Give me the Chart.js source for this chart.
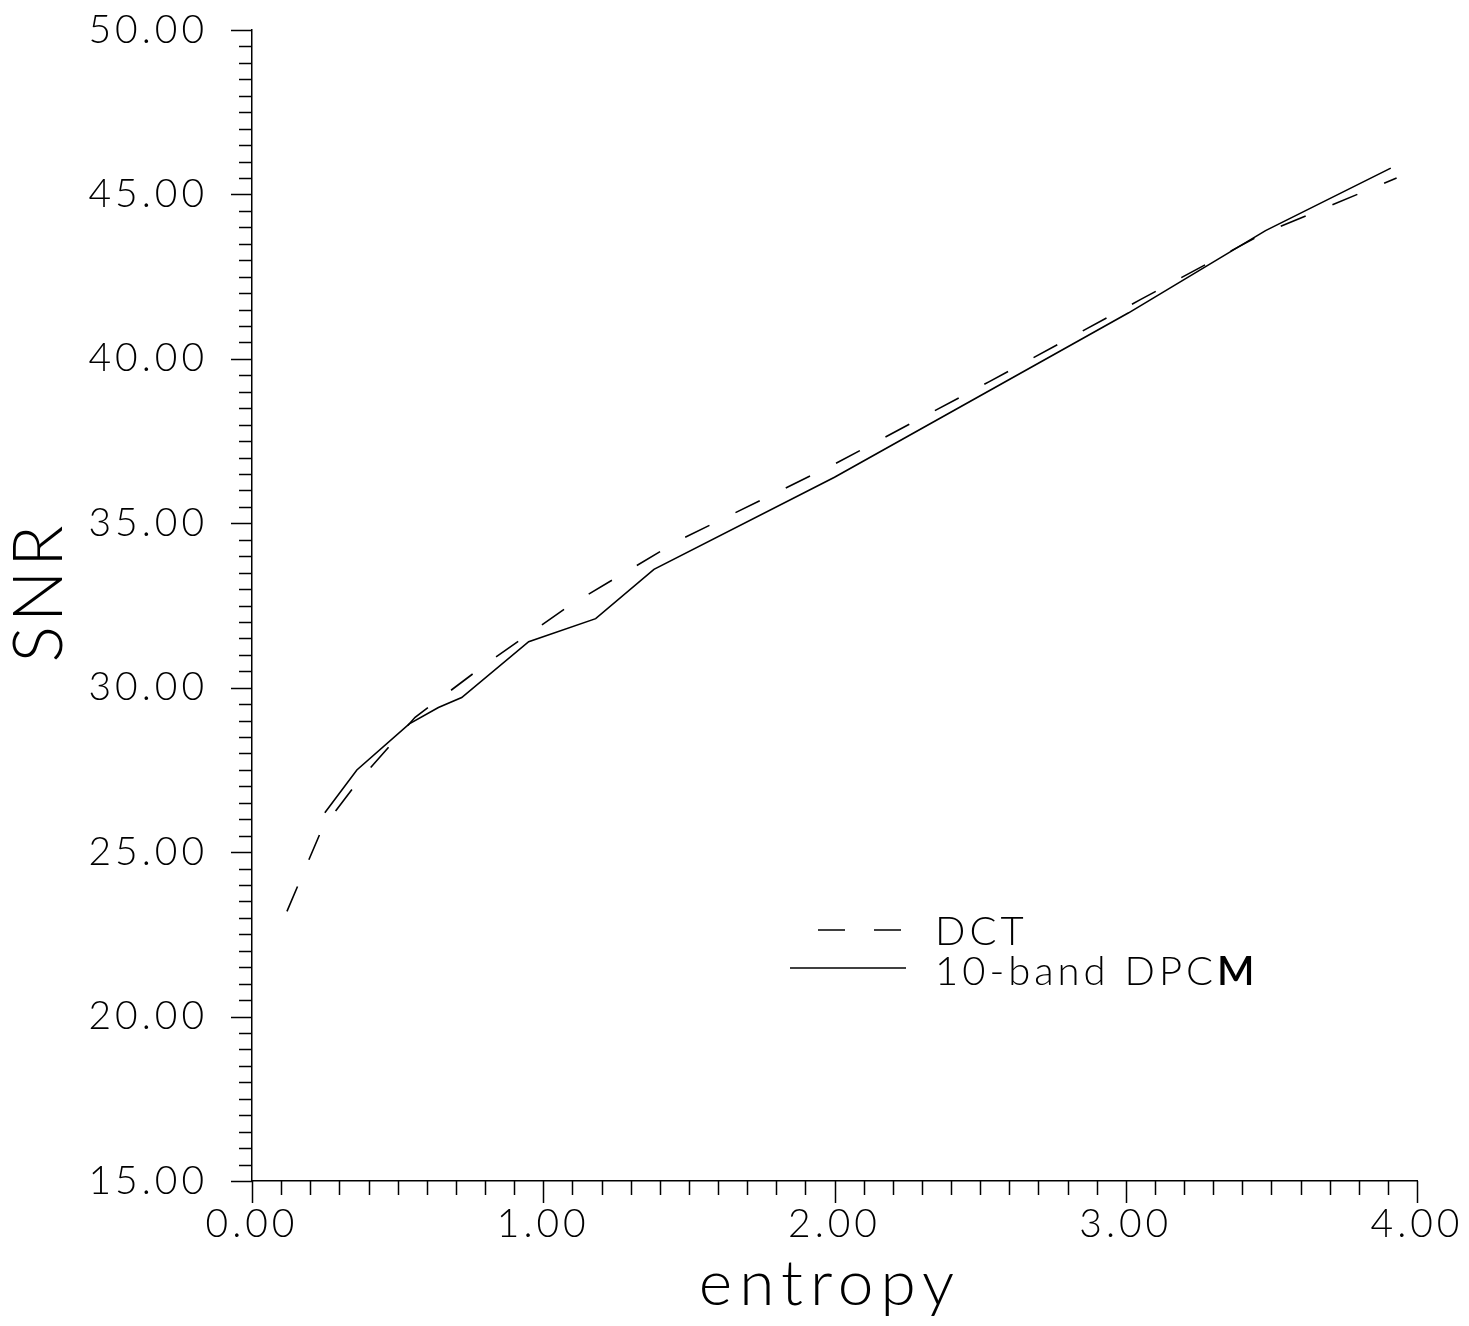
<!DOCTYPE html>
<html>
<head>
<meta charset="utf-8">
<title>SNR vs entropy</title>
<script src="https://cdn.jsdelivr.net/npm/chart.js@4.4.0/dist/chart.umd.min.js"></script>
<style>
  html, body { margin: 0; padding: 0; background: #fff; }
  #wrap { width: 1469px; height: 1326px; }
</style>
</head>
<body>
<div id="wrap"><canvas id="snrChart" width="1469" height="1326"></canvas></div>
<script>
// values
const dctEntropy = [0.12, 0.24, 0.36, 0.56, 0.80, 1.09, 1.47, 2.00, 2.53, 3.05, 3.47, 3.93];
const dctSnr     = [23.2, 25.7, 27.1, 29.1, 30.7, 32.5, 34.5, 36.8, 39.3, 41.8, 43.8, 45.5];

const dpcmEntropy = [0.25, 0.36, 0.54, 0.64, 0.72, 0.95, 1.18, 1.38, 2.00, 3.01, 3.48, 3.91];
const dpcmSnr     = [26.2, 27.5, 28.9, 29.4, 29.7, 31.4, 32.1, 33.6, 36.4, 41.4, 43.9, 45.8];

const xRange = [0, 4];
const yRange = [15, 50];
const xMinorStep = 0.1, xMajorStep = 1;
const yMinorStep = 0.5, yMajorStep = 5;

const seriesNames = ['DCT', '10-band DPCM'];
const axisTitles = { x: 'entropy', y: 'SNR' };

const FONT = 'Lato';
const onStep = (v, step) => Math.abs(v / step - Math.round(v / step)) < 1e-6;

const ctx = document.getElementById('snrChart').getContext('2d');

const spacing = {
  id: 'spacing',
  beforeLayout(chart) { chart.ctx.letterSpacing = '4px'; },
  beforeDraw(chart) { chart.ctx.letterSpacing = '4px'; }
};

// tick marks, axis titles and the in-plot legend
const decorations = {
  id: 'decorations',
  afterDraw(chart) {
    const c = chart.ctx;
    const { x, y } = chart.scales;
    c.save();
    c.strokeStyle = '#000';
    c.lineWidth = 1.5;
    c.beginPath();
    x.ticks.forEach(t => {
      const px = Math.round(x.getPixelForValue(t.value)) + 0.5;
      const len = onStep(t.value, xMajorStep) ? 22 : 14;
      c.moveTo(px, y.bottom);
      c.lineTo(px, y.bottom + len);
    });
    y.ticks.forEach(t => {
      const py = Math.round(y.getPixelForValue(t.value)) + 0.5;
      const len = onStep(t.value, yMajorStep) ? 21 : 13;
      c.moveTo(x.left, py);
      c.lineTo(x.left - len, py);
    });
    c.stroke();

    // axis titles
    c.fillStyle = '#000';
    c.letterSpacing = '7px';
    c.font = '300 64px ' + FONT;
    c.textAlign = 'center';
    c.textBaseline = 'alphabetic';
    c.fillText(axisTitles.x, 830, 1305);
    c.save();
    c.translate(62, 592);
    c.rotate(-Math.PI / 2);
    c.letterSpacing = '4px';
    c.font = '300 68px ' + FONT;
    c.fillText(axisTitles.y, 0, 0);
    c.restore();

    // legend
    const ds = chart.data.datasets;
    c.letterSpacing = '4px';
    c.font = '300 40px ' + FONT;
    c.textAlign = 'left';
    c.lineWidth = 1.5;
    c.setLineDash(ds[0].borderDash);
    c.beginPath();
    c.moveTo(818, 930);
    c.lineTo(906, 930);
    c.stroke();
    c.fillText(ds[0].label, 935, 945);
    c.setLineDash([]);
    c.beginPath();
    c.moveTo(790, 968);
    c.lineTo(906, 968);
    c.stroke();
    const lbl = ds[1].label;
    const head = lbl.slice(0, -1);
    c.fillText(head, 935, 985);
    const w = c.measureText(head).width;
    c.font = '600 40px ' + FONT;
    c.fillText(lbl.slice(-1), 935 + w, 985);
    c.restore();
  }
};

const tickFont = { family: FONT, size: 39, weight: 300 };

new Chart(ctx, {
  type: 'line',
  data: {
    datasets: [
      {
        label: seriesNames[0],
        data: dctEntropy.map((e, i) => ({ x: e, y: dctSnr[i] })),
        borderColor: '#000',
        borderWidth: 1.6,
        borderDash: [27, 29],
        pointRadius: 0,
        tension: 0,
        fill: false
      },
      {
        label: seriesNames[1],
        data: dpcmEntropy.map((e, i) => ({ x: e, y: dpcmSnr[i] })),
        borderColor: '#000',
        borderWidth: 1.6,
        pointRadius: 0,
        tension: 0,
        fill: false
      }
    ]
  },
  options: {
    responsive: false,
    animation: false,
    layout: { padding: { top: 30, right: 52, left: 0, bottom: 0 } },
    plugins: {
      legend: { display: false },
      tooltip: { enabled: false }
    },
    scales: {
      x: {
        type: 'linear',
        min: xRange[0],
        max: xRange[1],
        afterFit: s => { s.height = 145; s.paddingLeft = 0; s.paddingRight = 0; },
        border: { color: '#000', width: 1.5 },
        grid: { display: false, drawTicks: false },
        ticks: {
          stepSize: xMinorStep,
          autoSkip: false,
          maxRotation: 0,
          padding: 20,
          color: '#000',
          font: tickFont,
          callback: v => onStep(v, xMajorStep) ? v.toFixed(2) : ''
        }
      },
      y: {
        type: 'linear',
        min: yRange[0],
        max: yRange[1],
        afterFit: s => { s.width = 252; s.paddingTop = 0; s.paddingBottom = 0; },
        border: { color: '#000', width: 1.5 },
        grid: { display: false, drawTicks: false },
        ticks: {
          stepSize: yMinorStep,
          autoSkip: false,
          padding: 44,
          color: '#000',
          font: tickFont,
          callback: v => onStep(v, yMajorStep) ? v.toFixed(2) : ''
        }
      }
    }
  },
  plugins: [spacing, decorations]
});
</script>
</body>
</html>
